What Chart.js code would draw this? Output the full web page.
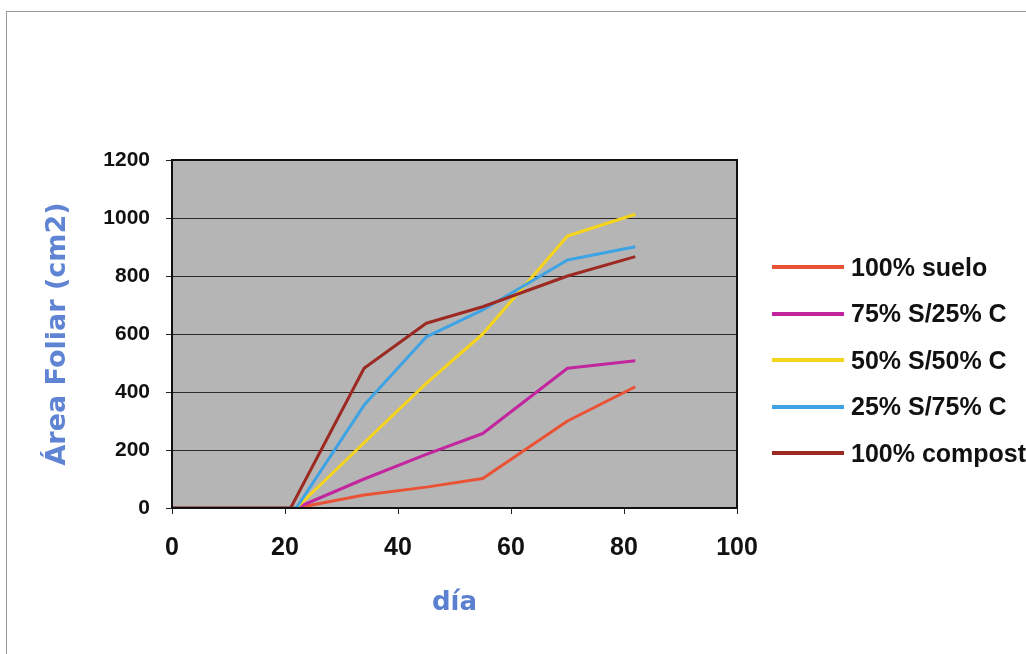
<!DOCTYPE html>
<html lang="es">
<head>
    <meta charset="UTF-8">
    <title>Área Foliar</title>
    <style>
        body {
            margin: 0;
            background: #ffffff;
            font-family: 'Liberation Sans', Arial, sans-serif;
        }
        .wrap {
            position: relative;
            width: 1026px;
            height: 654px;
            overflow: hidden;
        }
        .frame {
            position: absolute;
            left: 6px;
            top: 11px;
            width: 1040px;
            height: 700px;
            border-left: 1px solid #9a9a9a;
            border-top: 1px solid #9a9a9a;
        }
        canvas {
            position: absolute;
            left: 0;
            top: 0;
        }
        .legend {
            position: absolute;
            left: 772px;
            top: 0;
        }
        .legend-item {
            position: absolute;
            left: 0;
            height: 30px;
            display: flex;
            align-items: center;
            white-space: nowrap;
        }
        .legend-line {
            width: 72px;
            height: 4px;
            margin-right: 7px;
        }
        .legend-text {
            font-weight: bold;
            font-size: 25px;
            color: #111;
        }
    </style>
</head>
<body>
    <div class="wrap">
        <div class="frame"></div>
        <canvas id="chart" width="1026" height="654"></canvas>
        <div class="legend" id="legend"></div>
    </div>

    <script src="https://cdn.jsdelivr.net/npm/chart.js"></script>
    <script>
        // días de medición
        const diasCompost = [0, 21, 34, 45, 55, 70, 82];
        const diasOtros = [0, 22, 34, 45, 55, 70, 82];

        // área foliar (cm2)
        const suelo100 = [0, 0, 45, 72, 102, 300, 418];
        const s75c25 = [0, 0, 100, 185, 257, 482, 508];
        const s50c50 = [0, 0, 225, 430, 600, 938, 1013];
        const s25c75 = [0, 0, 355, 590, 683, 855, 901];
        const compost100 = [0, 0, 482, 637, 694, 800, 867];

        const xTicks = [0, 20, 40, 60, 80, 100];
        const yTicks = [0, 200, 400, 600, 800, 1000, 1200];

        const series = [
            { label: '100% suelo', dias: diasOtros, valores: suelo100, color: '#ea5236', order: 5 },
            { label: '75% S/25% C', dias: diasOtros, valores: s75c25, color: '#c2259e', order: 4 },
            { label: '50% S/50% C', dias: diasOtros, valores: s50c50, color: '#f6d41c', order: 3 },
            { label: '25% S/75% C', dias: diasOtros, valores: s25c75, color: '#3ea3e4', order: 2 },
            { label: '100% compost', dias: diasCompost, valores: compost100, color: '#9c2a22', order: 1 }
        ];

        const plotBackground = {
            id: 'plotBackground',
            beforeDraw(chart) {
                const { ctx, chartArea: a } = chart;
                ctx.save();
                ctx.fillStyle = '#b5b5b5';
                ctx.fillRect(a.left, a.top, a.right - a.left, a.bottom - a.top);
                ctx.restore();
            },
            afterDraw(chart) {
                const { ctx, chartArea: a } = chart;
                ctx.save();
                ctx.strokeStyle = '#111';
                ctx.lineWidth = 2;
                ctx.strokeRect(a.left, a.top, a.right - a.left, a.bottom - a.top);
                ctx.restore();
            }
        };

        const ctx = document.getElementById('chart').getContext('2d');
        const chart = new Chart(ctx, {
            type: 'line',
            data: {
                datasets: series.map(s => ({
                    label: s.label,
                    data: s.dias.map((d, i) => ({ x: d, y: s.valores[i] })),
                    borderColor: s.color,
                    backgroundColor: s.color,
                    borderWidth: 3,
                    pointRadius: 0,
                    tension: 0,
                    borderJoinStyle: 'round',
                    order: s.order
                }))
            },
            options: {
                responsive: false,
                animation: false,
                layout: {
                    padding: { top: 160, right: 289, left: 0, bottom: 0 }
                },
                scales: {
                    x: {
                        type: 'linear',
                        min: 0,
                        max: 100,
                        afterBuildTicks: scale => {
                            scale.ticks = xTicks.map(v => ({ value: v }));
                        },
                        afterFit: scale => { scale.height = 146; },
                        grid: {
                            drawOnChartArea: false,
                            drawTicks: true,
                            tickLength: 6,
                            tickColor: '#222'
                        },
                        border: { color: '#111', width: 2 },
                        ticks: {
                            color: '#111',
                            padding: 19,
                            maxRotation: 0,
                            callback: v => String(v),
                            font: { family: "'Liberation Sans', Arial", size: 25, weight: 'bold' }
                        },
                        title: {
                            display: true,
                            text: 'día',
                            color: '#5b80d0',
                            padding: { top: 0, bottom: 35 },
                            font: { family: "'DejaVu Sans'", size: 26, weight: 'bold' }
                        }
                    },
                    y: {
                        type: 'linear',
                        min: 0,
                        max: 1200,
                        afterBuildTicks: scale => {
                            scale.ticks = yTicks.map(v => ({ value: v }));
                        },
                        afterFit: scale => { scale.width = 172; },
                        grid: {
                            color: '#2a2a2a',
                            lineWidth: 1,
                            drawTicks: true,
                            tickLength: 6,
                            tickColor: '#222'
                        },
                        border: { color: '#111', width: 2 },
                        ticks: {
                            color: '#111',
                            padding: 16,
                            callback: v => String(v),
                            font: { family: "'Liberation Sans', Arial", size: 21, weight: 'bold' }
                        },
                        title: {
                            display: true,
                            text: 'Área Foliar (cm2)',
                            color: '#5f84d4',
                            padding: { top: 42, bottom: 0 },
                            font: { family: "'DejaVu Sans'", size: 27, weight: 'bold' }
                        }
                    }
                },
                plugins: {
                    legend: { display: false },
                    tooltip: { enabled: false }
                }
            },
            plugins: [plotBackground]
        });

        // leyenda a la derecha
        const legendBox = document.getElementById('legend');
        const filas = [267, 313.5, 360, 406.5, 453];
        chart.data.datasets.forEach((ds, i) => {
            const item = document.createElement('div');
            item.className = 'legend-item';
            item.style.top = (filas[i] - 15) + 'px';
            const line = document.createElement('div');
            line.className = 'legend-line';
            line.style.background = ds.borderColor;
            const text = document.createElement('span');
            text.className = 'legend-text';
            text.textContent = ds.label;
            item.appendChild(line);
            item.appendChild(text);
            legendBox.appendChild(item);
        });
    </script>
</body>
</html>
